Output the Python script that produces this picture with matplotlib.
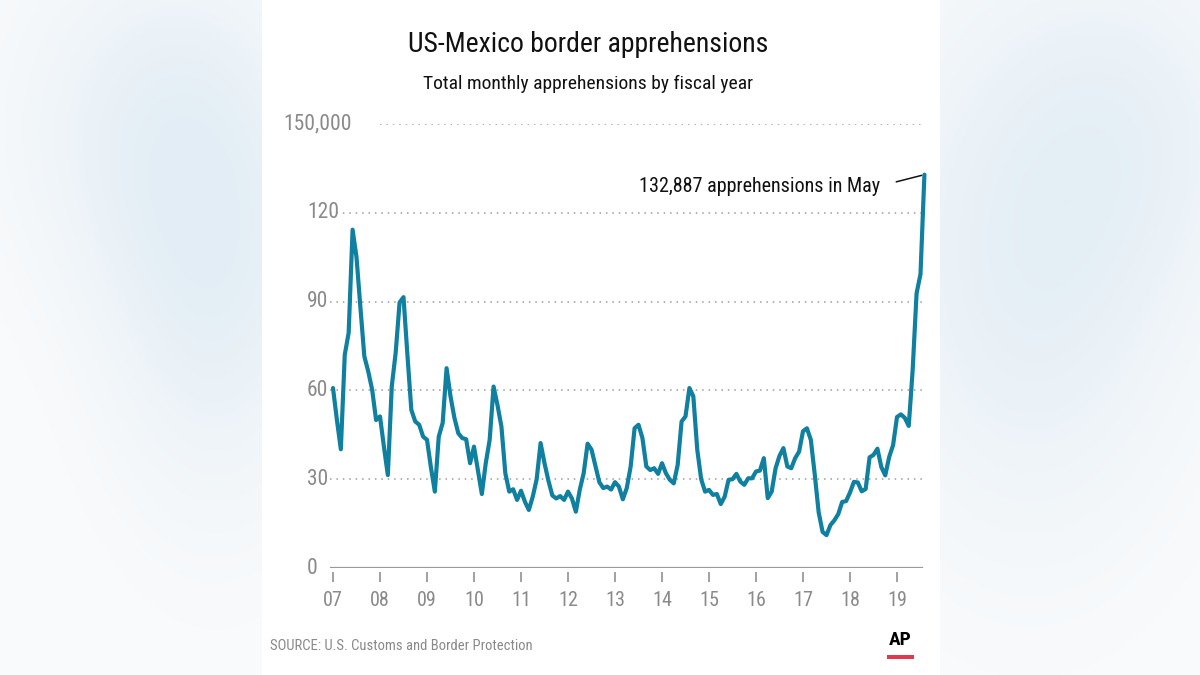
import numpy as np
import matplotlib
matplotlib.use("Agg")
import matplotlib.pyplot as plt
from matplotlib.patches import Rectangle
import matplotlib.transforms as mtransforms

plt.rcParams['font.family'] = ['Liberation Sans Narrow', 'Roboto Condensed', 'Liberation Sans', 'DejaVu Sans']

# ---------------- data (thousands of apprehensions, Oct..Sep per fiscal year) -------------
fy07 = [60.8, 50.0, 40.1, 72.0, 79.5, 114.3, 105.0, 88.0, 71.5, 66.4, 60.2, 50.0]
fy08 = [51.2, 41.0, 31.4, 61.3, 72.7, 89.7, 91.5, 72.0, 53.4, 49.5, 48.4, 44.4]
fy09 = [43.3, 34.0, 25.8, 44.4, 49.0, 67.5, 58.0, 50.7, 45.5, 43.9, 43.5, 35.4]
fy10 = [41.0, 33.0, 25.0, 35.4, 43.3, 61.3, 55.0, 47.8, 32.0, 25.8, 26.6, 23.0]
fy11 = [26.1, 22.4, 19.6, 24.1, 30.0, 42.2, 35.4, 29.5, 24.5, 23.5, 24.3, 23.0]
fy12 = [25.8, 23.5, 19.0, 26.4, 32.0, 42.0, 40.0, 34.5, 29.0, 27.0, 27.5, 26.5]
fy13 = [29.0, 27.5, 23.2, 27.0, 34.3, 47.2, 48.4, 43.9, 34.3, 33.1, 33.7, 31.8]
fy14 = [35.4, 32.0, 29.8, 28.6, 34.8, 49.5, 51.2, 60.8, 58.0, 40.0, 30.0, 25.8]
fy15 = [26.4, 24.7, 25.0, 21.6, 24.1, 29.8, 30.0, 31.8, 29.2, 28.1, 30.3, 30.3]
fy16 = [32.6, 32.9, 37.1, 23.6, 25.8, 33.7, 37.9, 40.5, 34.3, 33.7, 37.1, 39.3]
fy17 = [46.2, 47.2, 43.3, 31.6, 18.8, 12.2, 11.1, 14.5, 16.1, 18.2, 22.3, 22.6]
fy18 = [25.5, 29.1, 28.9, 25.9, 26.7, 37.4, 38.2, 40.3, 34.1, 31.3, 37.5, 41.5]
fy19 = [51.0, 51.9, 50.7, 48.0, 66.9, 92.8, 99.3, 132.887]

fiscal_years = list(range(2007, 2020))
tick_labels = ['07', '08', '09', '10', '11', '12', '13', '14', '15', '16', '17', '18', '19']
y_ticks = [0, 30000, 60000, 90000, 120000, 150000]
y_tick_labels = ['0', '30', '60', '90', '120', '150,000']
annotation = '132,887 apprehensions in May'

values = np.array(fy07 + fy08 + fy09 + fy10 + fy11 + fy12 + fy13 + fy14 +
                  fy15 + fy16 + fy17 + fy18 + fy19) * 1000
months = np.arange(len(values))
x = fiscal_years[0] + months / 12.0

# ---------------- figure ----------------
W, H = 1200, 675
fig = plt.figure(figsize=(12, 6.75), dpi=100)

# blurred background + white panel
bg = fig.add_axes([0, 0, 1, 1])
bg.set_axis_off()
yy, xx = np.mgrid[0:H, 0:W]


def blob(cx, cy, sx, sy):
    return np.exp(-(((xx - cx) / sx) ** 2 + ((yy - cy) / sy) ** 2) / 2)


t = (0.85 * blob(215, 250, 80, 170) + 0.45 * blob(120, 120, 90, 120)
     + 0.8 * blob(1030, 260, 110, 190) + 0.4 * blob(1150, 120, 90, 120))
t = np.clip(t, 0, 1)[..., None]
base = np.array([250, 251, 252]) / 255.0
blue = np.array([226, 237, 245]) / 255.0
img = base * (1 - t) + blue * t
bg.imshow(img, extent=[0, W, H, 0], aspect='auto', interpolation='bilinear')
bg.add_patch(Rectangle((262, 0), 678, H, facecolor='white', edgecolor='none'))
bg.add_patch(Rectangle((887, 655), 27, 3.5, facecolor='#e2374f', edgecolor='none'))
bg.set_xlim(0, W)
bg.set_ylim(H, 0)

# main axes
ax_left, ax_right, ax_top, ax_bottom = 330, 924, 124, 568
ax = fig.add_axes([ax_left / W, 1 - ax_bottom / H, (ax_right - ax_left) / W,
                   (ax_bottom - ax_top) / H])
ax.set_facecolor('none')
px_per_year = 47.0
x0 = fiscal_years[0] - 3 / px_per_year
ax.set_xlim(x0, x0 + (ax_right - ax_left) / px_per_year)
ax.set_ylim(0, 150000)

for s in ax.spines.values():
    s.set_visible(False)
ax.spines['bottom'].set_position(('outward', 3))

# gridlines
grid_kw = dict(color='#9c9c9c', lw=1.1, ls=(0, (1, 3.2)))
for v in y_ticks[1:-1]:
    ax.axhline(v, xmin=0, xmax=0.997, **grid_kw)
ax.axhline(y_ticks[-1], xmin=(380 - ax_left) / (ax_right - ax_left), xmax=0.997, **grid_kw)
ax.axhline(0, xmin=0, xmax=0.997, color='#9a9a9a', lw=1.6)

# line
ax.plot(x, values, color='#0f809f', lw=3.0, solid_joinstyle='round',
        solid_capstyle='round', clip_on=False, zorder=5)

# x ticks
ax.set_xticks(fiscal_years)
ax.set_xticklabels(tick_labels)
ax.tick_params(axis='x', length=7.5, width=1.3, color='#9a9a9a', pad=6,
               labelsize=14.5, labelcolor='#8a8a8a')
ax.set_yticks([])

# y labels
trans = mtransforms.blended_transform_factory(fig.transFigure, ax.transData)
for v, lab in zip(y_ticks, y_tick_labels):
    xpos = 283 if lab == '150,000' else 307
    ax.text(xpos / W, v, lab, transform=trans, ha='left', va='center',
            fontsize=15.5, color='#8a8a8a')

# annotation
ax.annotate(annotation, xy=(x[-1], values[-1]), xycoords='data',
            xytext=(880, H - 186), textcoords='figure pixels',
            ha='right', va='center', fontsize=14.5, color='#111111',
            arrowprops=dict(arrowstyle='-', color='#111111', lw=1.1,
                            relpos=(1, 0.5), shrinkA=10, shrinkB=2))

# titles
fig.text(588 / W, 1 - 45 / H, 'US-Mexico border apprehensions', ha='center',
         va='center', fontsize=20, color='#111111')
fig.text(588 / W, 1 - 84 / H, 'Total monthly apprehensions by fiscal year',
         ha='center', va='center', fontsize=14, color='#111111')

# source + logo
fig.text(270 / W, 1 - 646 / H, 'SOURCE: U.S. Customs and Border Protection',
         ha='left', va='center', fontsize=10.5, color='#8a8a8a')
fig.text(900.5 / W, 1 - 640 / H, 'AP', ha='center', va='center', fontsize=14,
         fontweight='bold', color='#000000')

fig.savefig('out.png', dpi=100)
